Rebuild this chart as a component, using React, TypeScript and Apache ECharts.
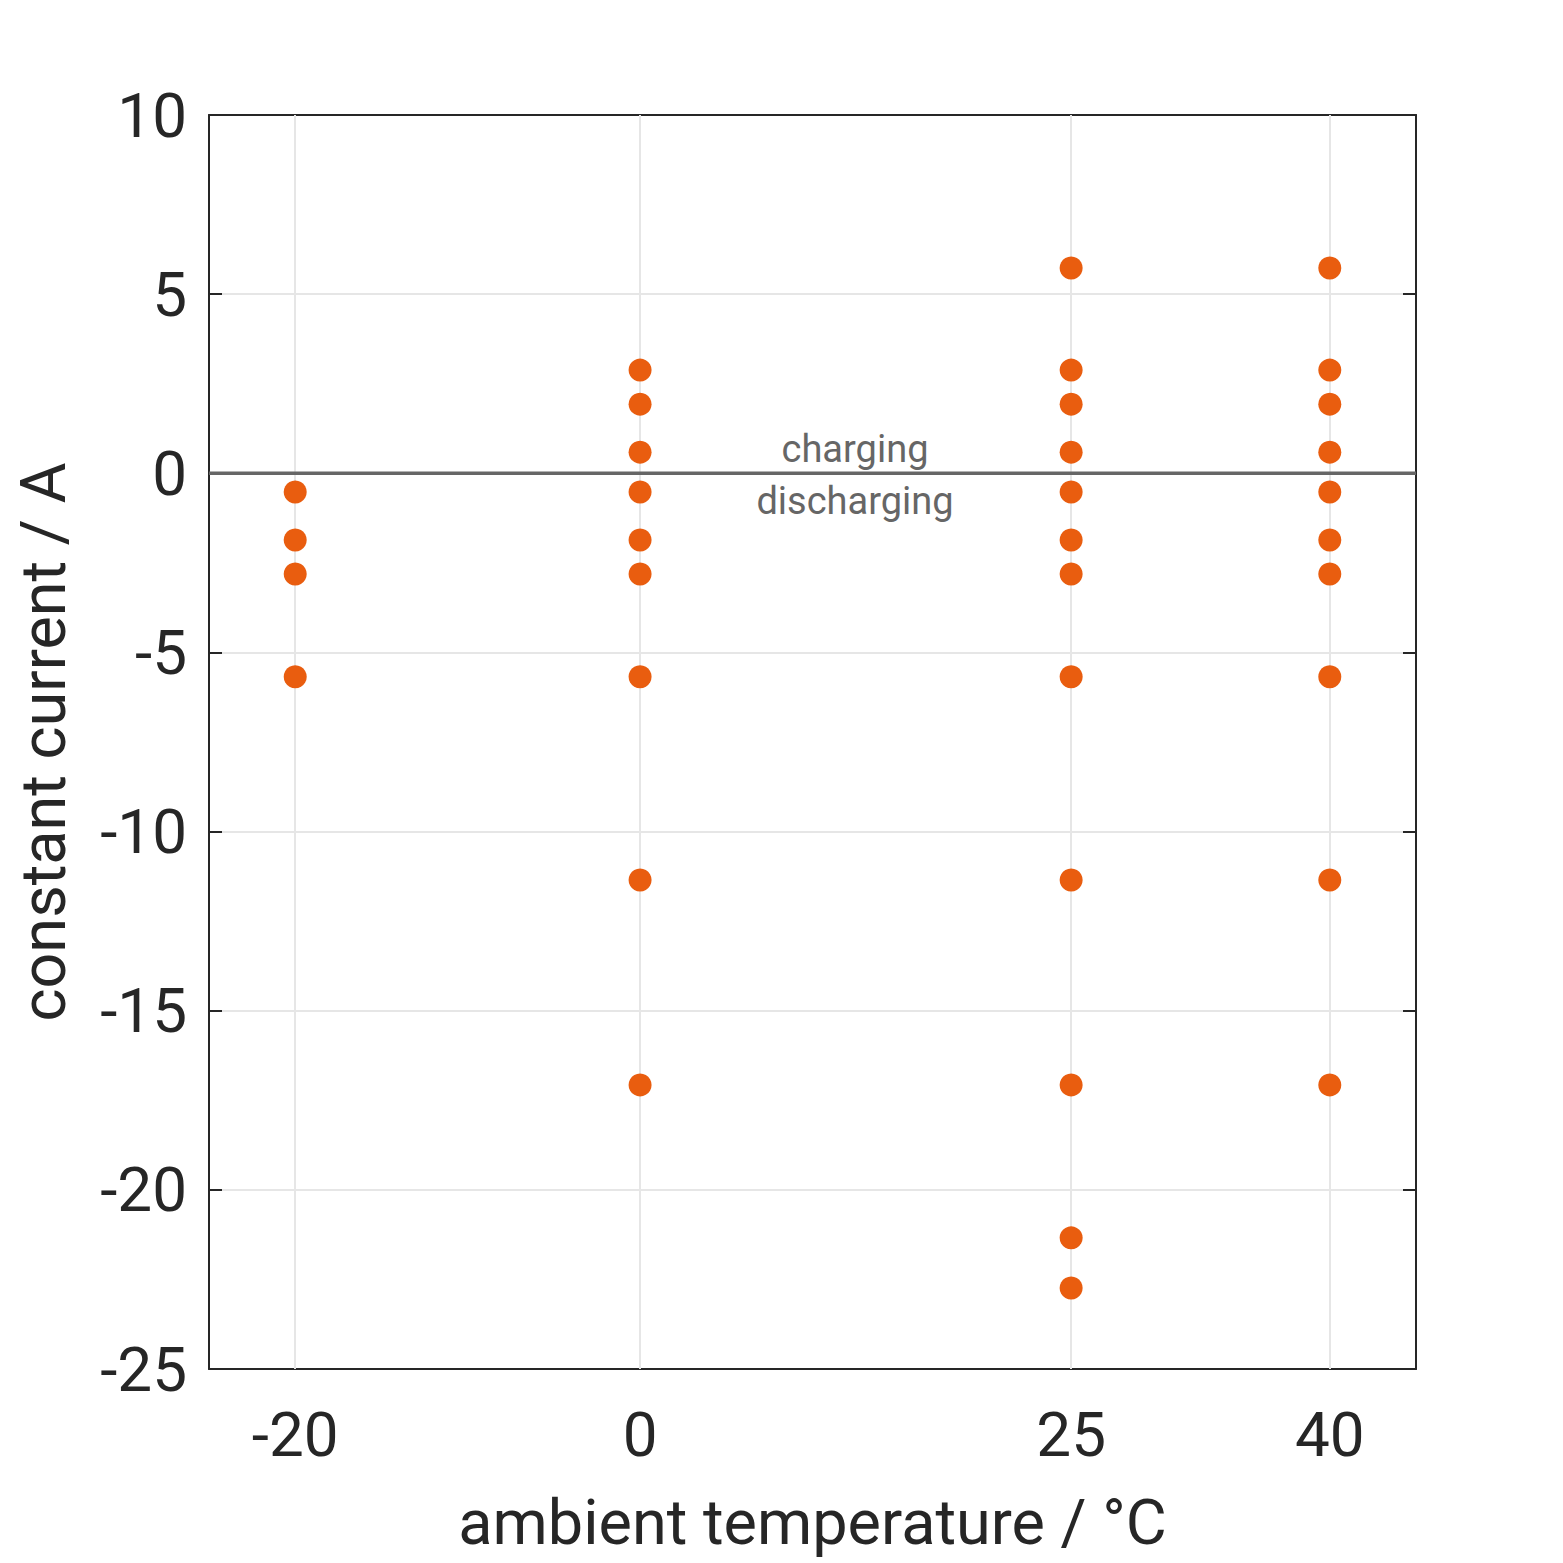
import { useEffect, useRef } from 'react';
import * as echarts from 'echarts';

// ambient temperatures (°C) and the currents (A) measured at each
const temperatures = [-20, 0, 25, 40];
const currentsM20 = [-0.52, -1.86, -2.81, -5.68];
const currents0 = [2.88, 1.93, 0.59, -0.52, -1.86, -2.81, -5.68, -11.35, -17.07];
const currents25 = [5.73, 2.88, 1.93, 0.59, -0.52, -1.86, -2.81, -5.68, -11.35, -17.07, -21.34, -22.74];
const currents40 = [5.73, 2.88, 1.93, 0.59, -0.52, -1.86, -2.81, -5.68, -11.35, -17.07];
const yTicks = [-25, -20, -15, -10, -5, 0, 5, 10];

const FONT = 'Roboto';
const TEXT = '#262626';

export default function App() {
  const ref = useRef<HTMLDivElement>(null);

  useEffect(() => {
    if (!ref.current) return;
    const chart = echarts.init(ref.current, null, { renderer: 'svg' });

    const groups = [currentsM20, currents0, currents25, currents40];
    const points: number[][] = [];
    groups.forEach((g, i) => g.forEach((c) => points.push([temperatures[i], c])));

    const grid = { left: 209, top: 115, width: 1207, height: 1254, outerBoundsMode: 'none', containLabel: false };
    const tick = { show: true, inside: true, length: 13, lineStyle: { color: TEXT, width: 2 } };
    const line = { show: true, onZero: false, lineStyle: { color: TEXT, width: 2 } };

    chart.setOption({
      animation: false,
      backgroundColor: '#fff',
      grid,
      xAxis: [
        {
          type: 'value', min: -25, max: 45,
          name: 'ambient temperature / °C', nameLocation: 'middle', nameGap: 122,
          nameTextStyle: { fontFamily: FONT, fontSize: 63, color: TEXT },
          axisLine: line,
          axisTick: { ...tick, customValues: temperatures },
          axisLabel: { customValues: temperatures, fontFamily: FONT, fontSize: 62, color: TEXT, margin: 34 },
          splitLine: { show: false },
        },
        {
          type: 'value', min: -25, max: 45, position: 'top',
          axisLine: line,
          axisTick: { ...tick, customValues: temperatures },
          axisLabel: { show: false },
          splitLine: { show: false },
        },
      ],
      yAxis: [
        {
          type: 'value', min: -25, max: 10, interval: 5,
          name: 'constant current / A', nameLocation: 'middle', nameGap: 134,
          nameTextStyle: { fontFamily: FONT, fontSize: 63, color: TEXT },
          axisLine: line,
          axisTick: tick,
          axisLabel: { fontFamily: FONT, fontSize: 62, color: TEXT, margin: 22, customValues: yTicks },
          splitLine: { show: true, lineStyle: { color: '#e6e6e6', width: 2 } },
        },
        {
          type: 'value', min: -25, max: 10, interval: 5, position: 'right',
          axisLine: line,
          axisTick: tick,
          axisLabel: { show: false },
          splitLine: { show: false },
        },
      ],
      series: [
        {
          type: 'scatter',
          data: points,
          symbolSize: 23,
          itemStyle: { color: '#e95d0f', opacity: 1 },
          z: 5,
          markLine: {
            silent: true,
            symbol: 'none',
            label: { show: false },
            data: temperatures.map((t) => ({ xAxis: t, lineStyle: { color: '#e6e6e6', width: 2, type: 'solid' } })),
            z: 1,
          },
        },
        {
          type: 'line',
          data: [[-25, 0], [45, 0]],
          symbol: 'none',
          lineStyle: { color: '#666666', width: 3.5 },
          z: 3,
          silent: true,
        },
      ],
      graphic: [
        {
          type: 'text', x: 855, y: 449,
          style: { text: 'charging', fontFamily: FONT, fontSize: 38, fill: '#666666', align: 'center', verticalAlign: 'middle' },
        },
        {
          type: 'text', x: 855, y: 501,
          style: { text: 'discharging', fontFamily: FONT, fontSize: 38, fill: '#666666', align: 'center', verticalAlign: 'middle' },
        },
      ],
    });

    return () => chart.dispose();
  }, []);

  return <div ref={ref} style={{ position: 'fixed', left: 0, top: 0, width: 1563, height: 1563 }} />;
}
